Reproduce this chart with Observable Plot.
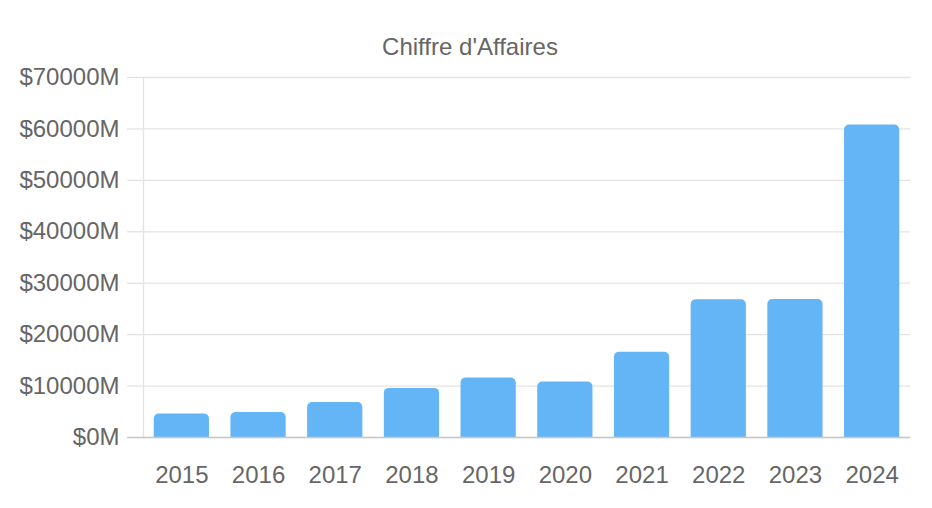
<!DOCTYPE html>
<html>
<head>
<meta charset="utf-8">
<script src="https://cdn.jsdelivr.net/npm/d3@7"></script>
<script src="https://cdn.jsdelivr.net/npm/@observablehq/plot@0.6"></script>
<style>
  html, body { margin: 0; padding: 0; background: #fff; }
  #wrap { position: relative; width: 932px; height: 508px; }
  #title { position: absolute; left: 4px; top: 35px; width: 932px; text-align: center;
    font: 24px/24px "Liberation Sans", Arial, Helvetica, sans-serif; color: #666; }
  svg { font-family: "Liberation Sans", Arial, Helvetica, sans-serif; }
</style>
</head>
<body>
<div id="wrap"><div id="title"></div></div>
<script>
const title = "Chiffre d'Affaires";
const years = ["2015","2016","2017","2018","2019","2020","2021","2022","2023","2024"];
const revenue = [4560, 4870, 6820, 9550, 11570, 10790, 16560, 26770, 26830, 60780];
const yTicks = [0, 10000, 20000, 30000, 40000, 50000, 60000, 70000];

const data = years.map((y, i) => ({year: y, value: revenue[i]}));
document.getElementById("title").textContent = title;

const chart = Plot.plot({
  width: 932,
  height: 508,
  marginLeft: 143,
  marginRight: 22,
  marginTop: 77,
  marginBottom: 71,
  style: {fontSize: "24px", color: "#666", background: "transparent", fontFamily: '"Liberation Sans", Arial, sans-serif'},
  x: {domain: years, paddingInner: 0.28, paddingOuter: 0.14, round: false, label: null},
  y: {domain: [0, 70000], label: null},
  marks: [
    Plot.gridY(yTicks, {stroke: "#e3e3e3", strokeOpacity: 1, strokeWidth: 1.3}),
    Plot.axisY(yTicks, {tickSize: 16, tickPadding: 8, stroke: "#e3e3e3", strokeOpacity: 1, strokeWidth: 1.3, fill: "#666", tickFormat: d => `$${d}M`, label: null}),
    Plot.frame({anchor: "left", stroke: "#e3e3e3", strokeWidth: 1.3}),
    Plot.barY(data, {x: "year", y: "value", fill: "#64b5f6", ry1: 5}),
    Plot.ruleY([0], {stroke: "#c8c8c8", strokeWidth: 1.5, insetLeft: -16}),
    Plot.axisX({tickSize: 0, tickPadding: 28, fill: "#666", label: null})
  ]
});
document.getElementById("wrap").appendChild(chart);
</script>
</body>
</html>
